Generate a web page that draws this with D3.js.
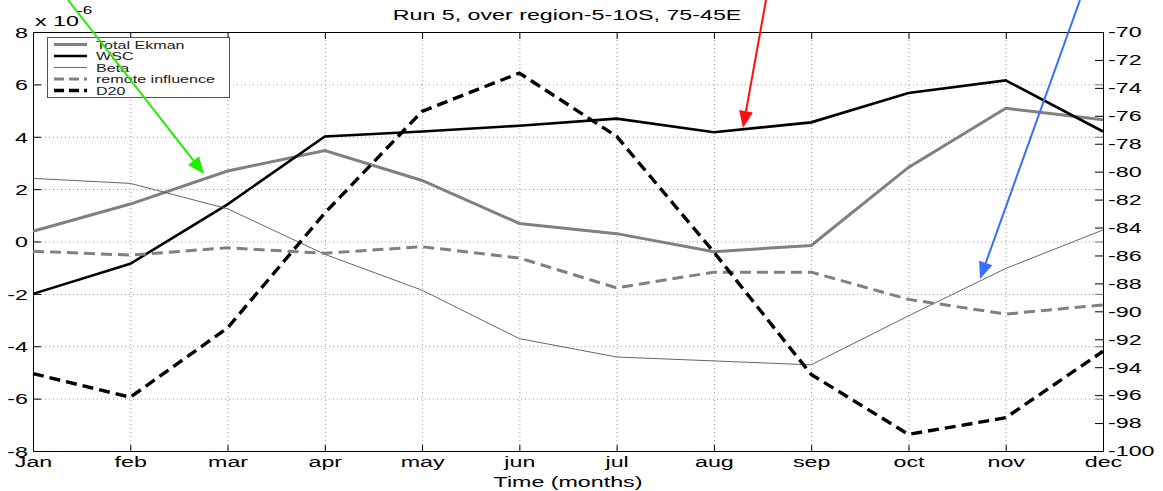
<!DOCTYPE html>
<html>
<head>
<meta charset="utf-8">
<script src="https://cdn.jsdelivr.net/npm/d3@7"></script>
<style>
  body { margin: 0; background: #fff; }
  svg { display: block; font-family: "Liberation Sans", Arial, sans-serif; }
</style>
</head>
<body>
<svg id="chart" width="1163" height="491"></svg>
<script>
// months on the x axis
var months = ["Jan", "feb", "mar", "apr", "may", "jun", "jul", "aug", "sep", "oct", "nov", "dec"];

// left axis series (x 10^-6)
var totalEkman = [0.39, 1.43, 2.69, 3.47, 2.33, 0.69, 0.30, -0.39, -0.15, 2.83, 5.09, 4.65];
var wsc        = [-2.0, -0.85, 1.42, 4.01, 4.2, 4.42, 4.69, 4.17, 4.55, 5.67, 6.15, 4.2];
var beta       = [2.41, 2.22, 1.25, -0.49, -1.86, -3.71, -4.41, -4.56, -4.71, -2.84, -1.03, 0.44];
var remoteInfl = [-0.37, -0.52, -0.24, -0.45, -0.2, -0.63, -1.77, -1.17, -1.17, -2.21, -2.77, -2.42];

// right axis series
var d20 = [-94.46, -96.15, -91.19, -82.96, -75.68, -72.94, -77.47, -85.76, -94.52, -98.81, -97.62, -92.86];

var leftTicks = [-8, -6, -4, -2, 0, 2, 4, 6, 8];
var rightTicks = [-100, -98, -96, -94, -92, -90, -88, -86, -84, -82, -80, -78, -76, -74, -72, -70];

var legendNames = ["Total Ekman", "WSC", "Beta", "remote influence", "D20"];

////////////////////////////////////////////////////////////////////////////////
// layout
////////////////////////////////////////////////////////////////////////////////
var plot = {left: 33, right: 1103, top: 32, bottom: 451};
var SX = 1.55; // the figure is stretched sideways, so is its text

var svg = d3.select("#chart");

var x = d3.scaleLinear().domain([0, months.length - 1]).range([plot.left, plot.right]);
var yL = d3.scaleLinear().domain([-8, 8]).range([plot.bottom, plot.top]);
var yR = d3.scaleLinear().domain([-100, -70]).range([plot.bottom, plot.top]);

// stretched free text
function label(px, py, size, anchor, txt) {
	return svg.append("g")
		.attr("transform", "translate(" + px + "," + py + ") scale(" + SX + ",1)")
		.append("text")
		.attr("text-anchor", anchor)
		.attr("font-size", size)
		.attr("fill", "#000")
		.text(txt);
}

// dotted grid
var grid = svg.append("g").attr("stroke", "#9a9a9a").attr("stroke-width", 1).attr("stroke-dasharray", "1,3");
grid.selectAll("line.h")
	.data(leftTicks.filter(function (d) { return d > -8 && d < 8; }))
	.join("line").attr("class", "h")
	.attr("x1", plot.left).attr("x2", plot.right)
	.attr("y1", function (d) { return yL(d) + 0.5; }).attr("y2", function (d) { return yL(d) + 0.5; });
grid.selectAll("line.v")
	.data(d3.range(1, months.length - 1))
	.join("line").attr("class", "v")
	.attr("y1", plot.top).attr("y2", plot.bottom)
	.attr("x1", function (d) { return x(d) + 0.5; }).attr("x2", function (d) { return x(d) + 0.5; });

// left axis (ticks inward)
var gLeft = svg.append("g")
	.attr("transform", "translate(" + plot.left + ",0)")
	.call(d3.axisLeft(yL).tickValues(leftTicks).tickSize(-8).tickPadding(7)
		.tickFormat(function (d) { return String(d); }));

// right axis
var gRight = svg.append("g")
	.attr("transform", "translate(" + plot.right + ",0)")
	.call(d3.axisRight(yR).tickValues(rightTicks).tickSize(-8).tickPadding(6)
		.tickFormat(function (d) { return String(d); }));

// left ticks mirrored on the right edge
svg.append("g").selectAll("line")
	.data(leftTicks.filter(function (d) { return d > -8 && d < 8; }))
	.join("line")
	.attr("x1", plot.right - 8).attr("x2", plot.right)
	.attr("y1", function (d) { return yL(d) + 0.5; }).attr("y2", function (d) { return yL(d) + 0.5; })
	.attr("stroke", "#777");

// bottom axis
var gBottom = svg.append("g")
	.attr("transform", "translate(0," + plot.bottom + ")")
	.call(d3.axisBottom(x).tickValues(d3.range(months.length)).tickSize(-6).tickPadding(5)
		.tickFormat(function (i) { return months[i]; }));

// top ticks
svg.append("g").selectAll("line")
	.data(d3.range(1, months.length - 1))
	.join("line")
	.attr("x1", function (d) { return x(d) + 0.5; }).attr("x2", function (d) { return x(d) + 0.5; })
	.attr("y1", plot.top).attr("y2", plot.top + 7)
	.attr("stroke", "#000");

[gLeft, gRight, gBottom].forEach(function (g) {
	g.select(".domain").remove();
	g.selectAll("text").attr("font-size", 15).attr("fill", "#000")
		.attr("font-family", "'Liberation Sans', Arial, sans-serif")
		.attr("transform", "scale(" + SX + ",1)");
	g.selectAll(".tick line").attr("stroke", "#000");
});
gLeft.selectAll(".tick text").attr("x", -5 / SX).attr("dy", "0.35em");
gRight.selectAll(".tick text").attr("x", 5 / SX);

// frame
svg.append("rect")
	.attr("x", plot.left + 0.5).attr("y", plot.top + 0.5)
	.attr("width", plot.right - plot.left).attr("height", plot.bottom - plot.top)
	.attr("fill", "none").attr("stroke", "#000").attr("stroke-width", 1);

////////////////////////////////////////////////////////////////////////////////
// lines
////////////////////////////////////////////////////////////////////////////////
var series = [
	{name: "Total Ekman", values: totalEkman, y: yL, color: "#808080", width: 3, dash: null},
	{name: "WSC", values: wsc, y: yL, color: "#000", width: 2.6, dash: null},
	{name: "Beta", values: beta, y: yL, color: "#555", width: 0.9, dash: null},
	{name: "remote influence", values: remoteInfl, y: yL, color: "#808080", width: 3, dash: "11,6"},
	{name: "D20", values: d20, y: yR, color: "#000", width: 3.4, dash: "11,6"}
];

series.forEach(function (s) {
	var line = d3.line()
		.x(function (d, i) { return x(i); })
		.y(function (d) { return s.y(d); });
	svg.append("path")
		.datum(s.values)
		.attr("d", line)
		.attr("fill", "none")
		.attr("stroke", s.color)
		.attr("stroke-width", s.width)
		.attr("stroke-dasharray", s.dash)
		.attr("stroke-linejoin", "miter");
});

////////////////////////////////////////////////////////////////////////////////
// legend
////////////////////////////////////////////////////////////////////////////////
var lg = svg.append("g").attr("transform", "translate(47,37)");
lg.append("rect").attr("x", 0.5).attr("y", 0.5).attr("width", 182).attr("height", 60)
	.attr("fill", "#fff").attr("stroke", "#555");
legendNames.forEach(function (name, i) {
	var s = series[i];
	var yy = 7.5 + i * 11.5;
	lg.append("line").attr("x1", 7).attr("x2", 40).attr("y1", yy).attr("y2", yy)
		.attr("stroke", s.color).attr("stroke-width", s.width).attr("stroke-dasharray", s.dash ? "10,5" : null);
	lg.append("g").attr("transform", "translate(49," + yy + ") scale(1.4,1)")
		.append("text").attr("dy", "0.35em")
		.attr("font-size", 11.5).attr("fill", "#222").text(name);
});

////////////////////////////////////////////////////////////////////////////////
// titles
////////////////////////////////////////////////////////////////////////////////
label(567, 20, 15, "middle", "Run 5, over region-5-10S, 75-45E");
label(568, 487, 15, "middle", "Time (months)");
var ex = label(35, 26, 15, "start", "x 10");
svg.append("g").attr("transform", "translate(77,14) scale(" + SX + ",1)")
	.append("text").attr("font-size", 11).attr("fill", "#000").text("-6");

////////////////////////////////////////////////////////////////////////////////
// annotation arrows
////////////////////////////////////////////////////////////////////////////////
var arrows = [
	{from: [68, 0], to: [204, 174], color: "#22ee00"},
	{from: [766, 0], to: [743, 128], color: "#ff1010"},
	{from: [1080, 0], to: [980, 279], color: "#3a6cff"}
];
arrows.forEach(function (a) {
	var dx = a.to[0] - a.from[0], dy = a.to[1] - a.from[1];
	var len = Math.sqrt(dx * dx + dy * dy);
	var ux = dx / len, uy = dy / len;
	var hl = 17, hw = 7;
	var bx = a.to[0] - ux * hl, by = a.to[1] - uy * hl;
	svg.append("line").attr("x1", a.from[0]).attr("y1", a.from[1]).attr("x2", bx).attr("y2", by)
		.attr("stroke", a.color).attr("stroke-width", 2);
	svg.append("polygon")
		.attr("points", [
			[a.to[0], a.to[1]],
			[bx - uy * hw, by + ux * hw],
			[bx + uy * hw, by - ux * hw]
		].map(function (p) { return p.join(","); }).join(" "))
		.attr("fill", a.color);
});
</script>
</body>
</html>
